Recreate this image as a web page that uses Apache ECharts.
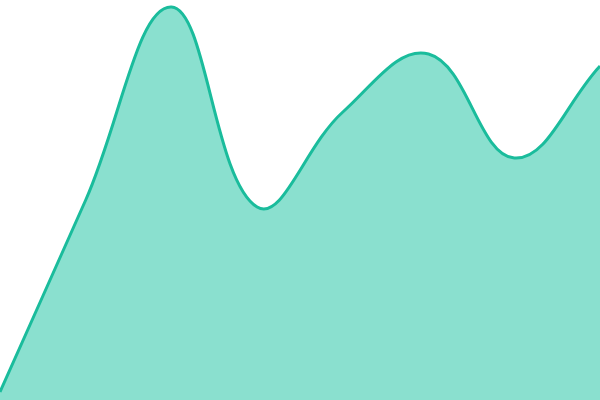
<!DOCTYPE html>
<html>
<head>
<meta charset="utf-8">
<script src="https://cdn.jsdelivr.net/npm/echarts@6/dist/echarts.min.js"></script>
<style>
  html, body { margin: 0; padding: 0; background: #fff; }
  #chart { width: 600px; height: 400px; }
</style>
</head>
<body>
<div id="chart"></div>
<script>
// 类目
var categories = ['1', '2', '3', '4', '5', '6', '7', '8'];
// 数值
var values = [8, 200, 393, 193, 288, 346, 242, 334];

// 张力样条（按像素距离加权）
var tension = 0.4;

function buildPath(pts) {
    var n = pts.length;
    var cps = [];
    for (var i = 0; i < n; i++) {
        var prev = pts[Math.max(i - 1, 0)];
        var cur = pts[i];
        var next = pts[Math.min(i + 1, n - 1)];
        var d01 = Math.hypot(cur[0] - prev[0], cur[1] - prev[1]);
        var d12 = Math.hypot(next[0] - cur[0], next[1] - cur[1]);
        var s01 = d01 / (d01 + d12) || 0;
        var s12 = d12 / (d01 + d12) || 0;
        var fa = tension * s01, fb = tension * s12;
        cps.push({
            prev: [cur[0] - fa * (next[0] - prev[0]), cur[1] - fa * (next[1] - prev[1])],
            next: [cur[0] + fb * (next[0] - prev[0]), cur[1] + fb * (next[1] - prev[1])]
        });
    }
    var d = 'M' + pts[0][0] + ' ' + pts[0][1];
    for (var j = 1; j < n; j++) {
        var c1 = cps[j - 1].next, c2 = cps[j].prev;
        d += ' C' + c1[0] + ' ' + c1[1] + ' ' + c2[0] + ' ' + c2[1] + ' ' + pts[j][0] + ' ' + pts[j][1];
    }
    return d;
}

var myChart = echarts.init(document.getElementById('chart'));
var option = {
    animation: false,
    grid: { left: 0, right: 0, top: 0, bottom: 0 },
    xAxis: {
        type: 'category',
        data: categories,
        boundaryGap: false,
        show: false
    },
    yAxis: {
        type: 'value',
        min: 0,
        max: 400,
        show: false
    },
    series: [{
        type: 'custom',
        data: values.map(function (v, i) { return [i, v]; }),
        renderItem: function (params, api) {
            if (params.dataIndex !== 0) return null;
            var pts = values.map(function (v, i) { return api.coord([i, v]); });
            var base = api.coord([0, 0])[1];
            var line = buildPath(pts);
            var area = line + ' L' + pts[pts.length - 1][0] + ' ' + base + ' L' + pts[0][0] + ' ' + base + ' Z';
            return {
                type: 'group',
                children: [{
                    type: 'path',
                    shape: { pathData: area },
                    style: { fill: '#8ae0cf', stroke: null }
                }, {
                    type: 'path',
                    shape: { pathData: line },
                    style: { fill: null, stroke: '#1abc9c', lineWidth: 3 }
                }]
            };
        }
    }]
};
myChart.setOption(option);
</script>
</body>
</html>
